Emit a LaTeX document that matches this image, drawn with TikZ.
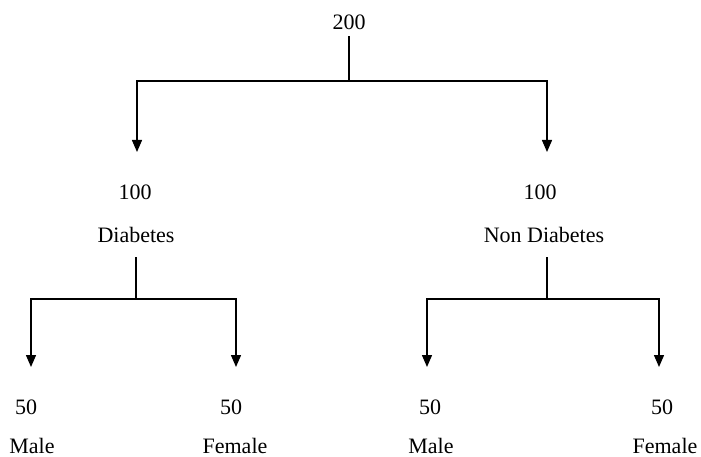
\documentclass[tikz,border=0pt]{standalone}
\usepackage{fontspec}
\setmainfont{Liberation Serif}
\usetikzlibrary{arrows.meta}
\begin{document}
\begin{tikzpicture}[x=1pt, y=-1pt, inner sep=0pt, font=\fontsize{22}{26}\selectfont,
    line width=1.4pt, tip/.style={-{Triangle[length=12pt,width=10pt]}}]
      \useasboundingbox (0,0) rectangle (701,457);
      \node (t0) at (349,22) {200};
      \node (c0) at (135,192) {100};
      \node (D0) at (136,235) {Diabetes};
      \node (c1) at (540,192) {100};
      \node (D1) at (544,235) {Non Diabetes};
      \node (f0) at (26,407) {50};
      \node (M0) at (32,446) {Male};
      \node (f1) at (231,407) {50};
      \node (F0) at (235,446) {Female};
      \node (f2) at (430,407) {50};
      \node (M1) at (431,446) {Male};
      \node (f3) at (662,407) {50};
      \node (F1) at (665,446) {Female};
      \coordinate (j0) at (349,81);
      \coordinate (a0) at (137,152);
      \coordinate (a1) at (547,152);
      \draw[shorten <=6pt] (t0) -- (j0);
      \draw[tip] (j0) -| (a0);
      \draw[tip] (j0) -| (a1);
      \coordinate (j1) at (136,299);
      \coordinate (a2) at (31,367);
      \coordinate (a3) at (236,367);
      \draw[shorten <=14pt] (D0) -- (j1);
      \draw[tip] (j1) -| (a2);
      \draw[tip] (j1) -| (a3);
      \coordinate (j2) at (547,299);
      \coordinate (a4) at (427,367);
      \coordinate (a5) at (659,367);
      \draw[shorten <=14pt] (j2 |- D1.south) -- (j2);
      \draw[tip] (j2) -| (a4);
      \draw[tip] (j2) -| (a5);
\end{tikzpicture}
\end{document}
